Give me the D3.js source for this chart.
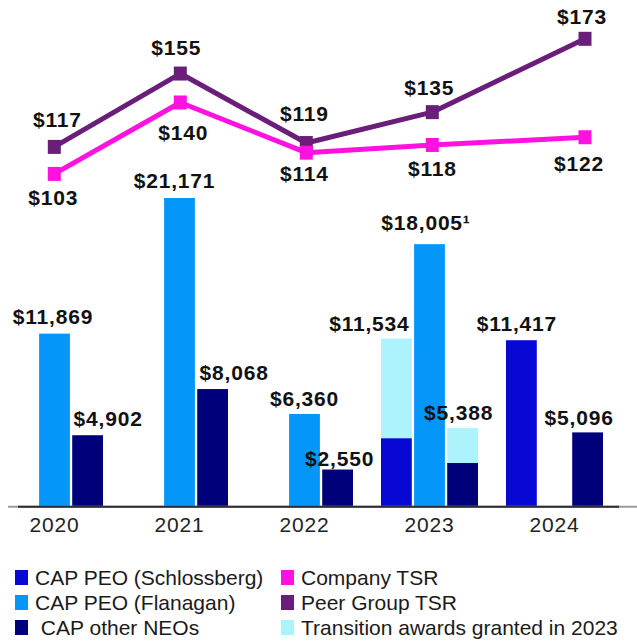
<!DOCTYPE html>
<html lang="en">
<head>
  <meta charset="UTF-8">
  <title>Compensation Actually Paid vs TSR</title>
  <script src="https://cdnjs.cloudflare.com/ajax/libs/d3/7.8.5/d3.min.js"></script>
  <style>
    * { margin: 0; padding: 0; box-sizing: border-box; }
    body { background: #fff; width: 637px; height: 642px; overflow: hidden; }
    svg { display: block; font-family: "Liberation Sans", Arial, sans-serif; }
    .bar-label, .tsr-label { font-weight: bold; font-size: 21px; letter-spacing: 0.8px; fill: #111; }
    .x-axis text { font-size: 21px; letter-spacing: 0.8px; fill: #222; font-family: "Liberation Sans", Arial, sans-serif; }
    .legend text { font-size: 21px; fill: #1a1a1a; }
  </style>
</head>
<body>
<div id="chart"></div>
<script>
  // CAP values ($ thousands), TSR = value of initial $100 investment
  const years = ["2020", "2021", "2022", "2023", "2024"];
  const seriesKeys = ["schlossberg", "flanagan", "other"];
  const capSchlossberg = [0, 0, 0, 4700, 11417];
  const capFlanagan = [11869, 21171, 6360, 18005, 0];
  const capOtherNeos = [4902, 8068, 2550, 2997, 5096];
  const transitionSchlossberg = [0, 0, 0, 6834, 0];
  const transitionOtherNeos = [0, 0, 0, 2391, 0];
  const flanaganNotes = ["", "", "", "\u00b9", ""];
  const companyTsr = [103, 140, 114, 118, 122];
  const peerTsr = [117, 155, 119, 135, 173];
  const legendLeft = ["CAP PEO (Schlossberg)", "CAP PEO (Flanagan)", " CAP other NEOs"];
  const legendRight = ["Company TSR", "Peer Group TSR", "Transition awards granted in 2023"];

  const width = 637, height = 642;

  const color = {
    schlossberg: "#0808d4",
    flanagan: "#0596fa",
    other: "#00007a",
    transition: "#adf3fc",
    company: "#ff12e0",
    peer: "#6a1e7a"
  };

  const svg = d3.select("#chart").append("svg")
    .attr("width", width)
    .attr("height", height);

  // Scales
  const x = d3.scaleBand().domain(years).range([-8, 617])
    .paddingInner(0.224).paddingOuter(0.112);
  const xSeries = d3.scaleBand().domain(seriesKeys).range([0, x.bandwidth()])
    .paddingInner(0.07);

  const base = { schlossberg: capSchlossberg, flanagan: capFlanagan, other: capOtherNeos };
  const extra = { schlossberg: transitionSchlossberg, flanagan: years.map(() => 0), other: transitionOtherNeos };

  const bars = [];
  years.forEach((yr, i) => {
    seriesKeys.forEach(k => {
      const b = base[k][i], e = extra[k][i];
      if (b + e > 0) bars.push({ year: yr, key: k, base: b, extra: e, total: b + e,
        note: k === "flanagan" ? flanaganNotes[i] : "" });
    });
  });

  const yBar = d3.scaleLinear().domain([0, d3.max(bars, d => d.total)]).range([506.7, 198]);

  // Bars
  const barG = svg.append("g").attr("class", "bars");
  const bx = d => x(d.year) + xSeries(d.key);

  barG.selectAll(".bar-base").data(bars).enter().append("rect")
    .attr("class", "bar-base")
    .attr("x", bx)
    .attr("width", xSeries.bandwidth())
    .attr("y", d => yBar(d.base))
    .attr("height", d => yBar(0) - yBar(d.base))
    .attr("fill", d => color[d.key]);

  barG.selectAll(".bar-extra").data(bars.filter(d => d.extra > 0)).enter().append("rect")
    .attr("class", "bar-extra")
    .attr("x", bx)
    .attr("width", xSeries.bandwidth())
    .attr("y", d => yBar(d.total))
    .attr("height", d => yBar(d.base) - yBar(d.total))
    .attr("fill", color.transition);

  // bar label nudges [dx, gap above bar]
  const barNudge = {
    "2020|flanagan": [-1.5, 10], "2020|other": [20.5, 9],
    "2021|flanagan": [-5, 10], "2021|other": [21.5, 9],
    "2022|flanagan": [0, 8], "2022|other": [2, 4],
    "2023|schlossberg": [-27, 8], "2023|flanagan": [-3.5, 14], "2023|other": [-4, 8],
    "2024|schlossberg": [-4.5, 9], "2024|other": [-8.5, 7]
  };
  const fmt = d3.format(",");

  barG.selectAll(".bar-label").data(bars).enter().append("text")
    .attr("class", "bar-label")
    .attr("text-anchor", "middle")
    .attr("x", d => bx(d) + xSeries.bandwidth() / 2 + (barNudge[d.year + "|" + d.key] || [0, 9])[0])
    .attr("y", d => yBar(d.total) - (barNudge[d.year + "|" + d.key] || [0, 9])[1])
    .text(d => "$" + fmt(d.total) + d.note);

  // X axis
  const axisG = svg.append("g")
    .attr("class", "x-axis")
    .attr("transform", `translate(0,${yBar(0)})`)
    .call(d3.axisBottom(x).tickSize(0).tickPadding(10));
  axisG.select(".domain").remove();
  axisG.append("line").attr("x1", 8).attr("x2", 637).attr("stroke", "#9a9a9a").attr("stroke-width", 2);
  axisG.append("line").attr("x1", 18).attr("x2", 619).attr("stroke", "#2c2c38").attr("stroke-width", 2);

  // TSR lines
  const xLine = d3.scaleLinear().domain([0, 3, 4]).range([54.3, 432.3, 585]);
  const yLine = d3.scaleLinear().domain([100, 180]).range([179.7, 25.3]);

  const line = d3.line().x((d, i) => xLine(i)).y(d => yLine(d));

  const tsr = [
    { key: "peer", values: peerTsr,
      nudge: [[3, -20], [-4, -19], [-2, -21.7], [-3, -17], [-3, -14.7]] },
    { key: "company", values: companyTsr,
      nudge: [[-1, 30.7], [3, 37.3], [-2, 28.4], [0, 31], [-6, 33.3]] }
  ];

  const lineG = svg.append("g").attr("class", "tsr");
  tsr.forEach(s => {
    const g = lineG.append("g");
    g.append("path")
      .datum(s.values)
      .attr("d", line)
      .attr("fill", "none")
      .attr("stroke", color[s.key])
      .attr("stroke-width", 5)
      .attr("stroke-linejoin", "round");
    g.selectAll("rect").data(s.values).enter().append("rect")
      .attr("x", (d, i) => xLine(i) - 6.5)
      .attr("y", d => yLine(d) - 7)
      .attr("width", 13)
      .attr("height", 14)
      .attr("fill", color[s.key]);
  });
  tsr.forEach(s => {
    lineG.append("g").selectAll("text").data(s.values).enter().append("text")
      .attr("class", "tsr-label")
      .attr("text-anchor", "middle")
      .attr("x", (d, i) => xLine(i) + s.nudge[i][0])
      .attr("y", (d, i) => yLine(d) + s.nudge[i][1])
      .text(d => "$" + d);
  });

  // Legend
  const legend = svg.append("g").attr("class", "legend");
  const leftColors = [color.schlossberg, color.flanagan, color.other];
  const rightColors = [color.company, color.peer, color.transition];
  const rowTop = i => 570 + i * 25;

  function legendColumn(labels, colors, sx, tx) {
    const item = legend.append("g").selectAll("g").data(labels).enter().append("g");
    item.append("rect")
      .attr("x", sx)
      .attr("y", (d, i) => rowTop(i))
      .attr("width", 13)
      .attr("height", 15)
      .attr("fill", (d, i) => colors[i]);
    item.append("text")
      .attr("x", tx)
      .attr("y", (d, i) => rowTop(i) + 15)
      .attr("xml:space", "preserve")
      .style("white-space", "pre")
      .text(d => d);
  }
  legendColumn(legendLeft, leftColors, 15, 35);
  legendColumn(legendRight, rightColors, 281, 301);
</script>
</body>
</html>
